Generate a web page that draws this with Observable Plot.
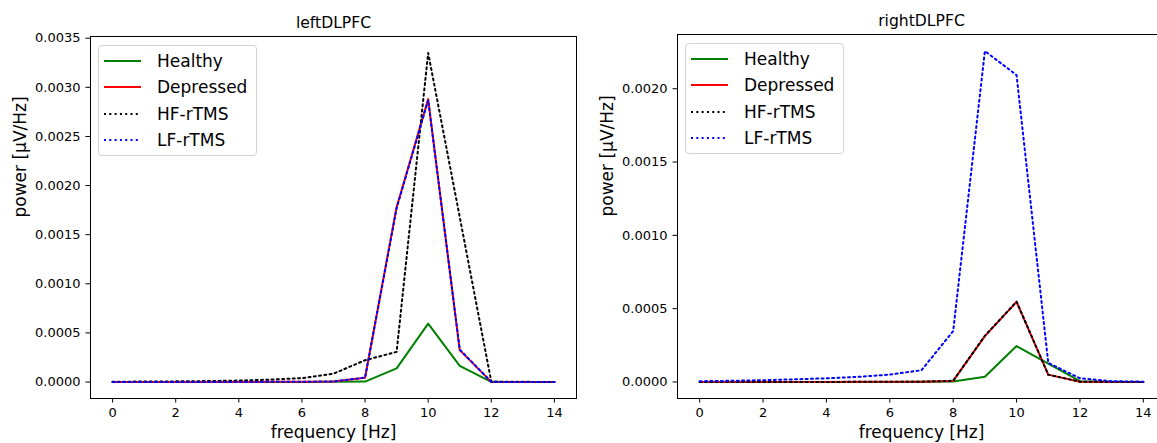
<!DOCTYPE html>
<html><head><meta charset="utf-8">
<script src="https://cdn.jsdelivr.net/npm/d3@7"></script>
<script src="https://cdn.jsdelivr.net/npm/@observablehq/plot@0.6"></script>
<style>
html,body{margin:0;padding:0;background:#fff;overflow:hidden;width:1157px;height:443px;}
#root{position:relative;width:1157px;height:443px;overflow:hidden;font-family:"DejaVu Sans",sans-serif;}
.panel{position:absolute;top:0;}
.legend{position:absolute;box-sizing:border-box;border:1px solid #d3d3d3;border-radius:4px;background:rgba(255,255,255,0.8);padding:2px 0 0 5px;}
.legend .row{display:flex;align-items:center;height:26.3px;}
.legend svg{display:block;width:37px;height:10px;margin-right:16px;}
.legend span{font-size:17px;color:#000;white-space:nowrap;line-height:20px;}
</style>
</head><body><div id="root"></div>
<script>
// ---- data ----
const freqs = [0,1,2,3,4,5,6,7,8,9,10,11,12,13,14];
const xTicks = [0,2,4,6,8,10,12,14];
const seriesNames = ["Healthy","Depressed","HF-rTMS","LF-rTMS"];
const seriesColors = ["#008000","#ff0000","#000000","#0000ff"];
const seriesDash = [null,null,"2,3.3","2,3.3"];

const panelTitles = ["leftDLPFC","rightDLPFC"];
const xLabel = "frequency [Hz]";
const yLabel = "power [µV/Hz]";

const leftHealthy   = [0,0,0,0,0,0.000001,0.000001,0.000002,0.000005,0.000139,0.000595,0.000165,0.000002,0,0];
const leftDepressed = [0.000001,0.000001,0.000001,0.000001,0.000001,0.000002,0.000003,0.000006,0.000044,0.00178,0.00288,0.000325,0.000002,0.000001,0];
const leftHF        = [0.000003,0.000005,0.000007,0.00001,0.000015,0.000025,0.00004,0.000085,0.000222,0.000307,0.00335,0.00168,0.000004,0.000002,0.000001];
const leftLF        = [0.000001,0.000001,0.000001,0.000001,0.000001,0.000002,0.000003,0.000006,0.000045,0.00177,0.00287,0.00033,0.000002,0.000001,0];
const leftYTicks    = [0,0.0005,0.001,0.0015,0.002,0.0025,0.003,0.0035];

const rightHealthy   = [0,0,0,0,0,0,0,0.000001,0.000003,0.000036,0.000245,0.000125,0.000005,0.000001,0];
const rightDepressed = [0,0,0,0,0,0.000001,0.000001,0.000002,0.000007,0.000313,0.000546,0.00005,0.000002,0,0];
const rightHF        = [0,0,0,0,0,0.000001,0.000001,0.000002,0.000008,0.000315,0.000548,0.000049,0.000002,0,0];
const rightLF        = [0.000005,0.000008,0.000012,0.000018,0.000025,0.000035,0.00005,0.00008,0.000347,0.002257,0.002093,0.00013,0.000025,0.000005,0.000002];
const rightYTicks    = [0,0.0005,0.001,0.0015,0.002];

// ---- drawing ----
function makePanel(title, series, yTicks, m) {
  const all = series.flat();
  const ymin = d3.min(all), ymax = d3.max(all);
  const pad = (ymax - ymin) * 0.05;
  const xpad = (d3.max(freqs) - d3.min(freqs)) * 0.05;
  const lines = series.map((vals, i) => Plot.line(
    freqs.map((f, j) => ({f, v: vals[j]})),
    {x: "f", y: "v", stroke: seriesColors[i], strokeWidth: 2, strokeDasharray: seriesDash[i] || undefined}
  ));
  return Plot.plot({
    width: m.width, height: 443,
    marginLeft: m.left, marginRight: m.right, marginTop: m.top, marginBottom: m.bottom,
    x: {domain: [d3.min(freqs) - xpad, d3.max(freqs) + xpad]},
    y: {domain: [ymin - pad, ymax + pad]},
    style: {fontFamily: "DejaVu Sans", fontSize: "13px", color: "#000", background: "transparent", overflow: "visible"},
    marks: [
      Plot.axisX({ticks: xTicks, tickSize: 4.5, tickPadding: 4.5, label: null, tickFormat: d3.format("d")}),
      Plot.axisY({ticks: yTicks, tickSize: 4.5, tickPadding: 5.5, label: null, tickFormat: d3.format(".4f")}),
      ...lines,
      Plot.frame({stroke: "#000", strokeWidth: 1}),
      Plot.text([title], {text: d => d, frameAnchor: "top", lineAnchor: "bottom", dy: -9, fontSize: 15.6}),
      Plot.text([xLabel], {text: d => d, frameAnchor: "bottom", lineAnchor: "top", dy: 27, fontSize: 17}),
      Plot.text([yLabel], {text: d => d, frameAnchor: "left", rotate: -90, lineAnchor: "bottom", dx: -65, fontSize: 17})
    ]
  });
}

function makeLegend(left, top) {
  const div = document.createElement("div");
  div.className = "legend";
  div.style.left = left + "px"; div.style.top = top + "px";
  div.style.width = "159px"; div.style.height = "111px";
  seriesNames.forEach((name, i) => {
    const row = document.createElement("div"); row.className = "row";
    const dash = seriesDash[i] ? ` stroke-dasharray="${seriesDash[i]}"` : "";
    row.innerHTML = `<svg viewBox="0 0 37 10"><line x1="0" x2="37" y1="5" y2="5" stroke="${seriesColors[i]}" stroke-width="2"${dash}/></svg><span>${name}</span>`;
    div.appendChild(row);
  });
  return div;
}

const root = document.getElementById("root");
const p1 = makePanel(panelTitles[0], [leftHealthy, leftDepressed, leftHF, leftLF], leftYTicks,
  {width: 590, left: 90, right: 14, top: 36, bottom: 45});
p1.classList.add("panel"); p1.style.left = "0px";
root.appendChild(p1);
const p2 = makePanel(panelTitles[1], [rightHealthy, rightDepressed, rightHF, rightLF], rightYTicks,
  {width: 590, left: 87, right: 15, top: 34, bottom: 45});
p2.classList.add("panel"); p2.style.left = "590px";
root.appendChild(p2);
root.appendChild(makeLegend(98, 45));
root.appendChild(makeLegend(685, 43));
</script>
</body></html>
